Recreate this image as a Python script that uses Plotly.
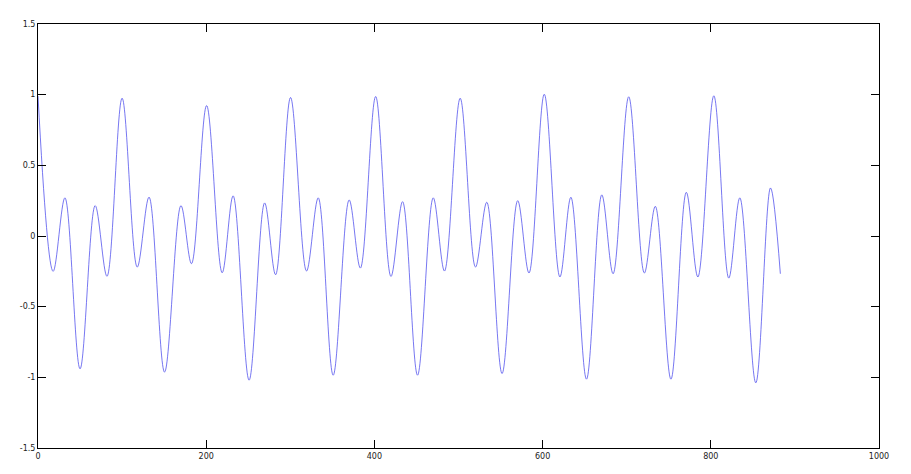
import plotly.graph_objects as go

# Extrema of the signal (sample index, amplitude)
x_values = [0, 18, 32, 50, 68, 82, 100, 118, 132, 150.5, 170, 182.5, 200.5, 219, 232, 251,
            269.5, 282.5, 300.3, 319.3, 333.2, 351, 370, 383.3, 401.5, 419.7, 433.5, 451.3,
            470, 483.3, 502, 520.2, 533.6, 551.8, 570.4, 583.8, 602, 620.6, 633.6, 652.2,
            670.4, 683.8, 702.4, 721, 734, 752.6, 770.9, 784.6, 803.6, 821.4, 834.5, 853.5,
            871, 882.7]
y_values = [0.99, -0.25, 0.27, -0.94, 0.215, -0.285, 0.975, -0.22, 0.275, -0.963, 0.215, -0.196,
            0.923, -0.26, 0.284, -1.02, 0.234, -0.274, 0.98, -0.248, 0.27, -0.985, 0.255, -0.227,
            0.987, -0.286, 0.243, -0.985, 0.27, -0.248, 0.975, -0.22, 0.239, -0.973, 0.25, -0.262,
            1.003, -0.29, 0.274, -1.013, 0.291, -0.267, 0.985, -0.262, 0.21, -1.013, 0.309, -0.29,
            0.992, -0.298, 0.27, -1.039, 0.34, -0.267]

x_ticks = [0, 200, 400, 600, 800, 1000]
x_tick_labels = ["0", "200", "400", "600", "800", "1000"]
y_ticks = [-1.5, -1, -0.5, 0, 0.5, 1, 1.5]
y_tick_labels = ["-1.5", "-1", "-0.5", "0", "0.5", "1", "1.5"]

fig = go.Figure()
fig.add_trace(go.Scatter(
    x=x_values, y=y_values, mode="lines",
    line=dict(color="rgb(60,60,235)", width=0.7, shape="spline", smoothing=1),
    showlegend=False, hoverinfo="skip",
))

axis_common = dict(
    showgrid=False, zeroline=False, showline=True, linecolor="black", linewidth=1,
    mirror="ticks", ticks="inside", ticklen=8, tickcolor="black", tickwidth=1,
    tickfont=dict(family="DejaVu Sans", size=8, color="#222222"),
)

fig.update_xaxes(range=[0, 1000], tickvals=x_ticks, ticktext=x_tick_labels, **axis_common)
fig.update_yaxes(range=[-1.5, 1.5], tickvals=y_ticks, ticktext=y_tick_labels, **axis_common)

# The page body has an 8px default margin, so the figure is sized/margined to compensate.
fig.update_layout(
    width=903, height=466, autosize=False,
    margin=dict(l=28, r=32, t=15, b=26),
    paper_bgcolor="white", plot_bgcolor="white",
)

fig.write_html("out.html")
